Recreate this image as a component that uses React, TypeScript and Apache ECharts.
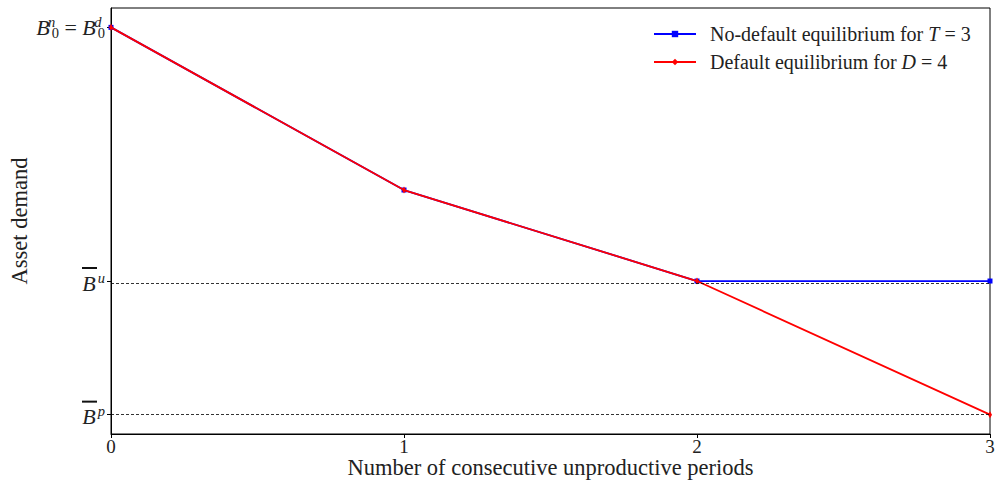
import React, { useEffect, useRef } from "react";
import * as echarts from "echarts";

// Number of consecutive unproductive periods
const periods = [0, 1, 2, 3];
// Asset demand along each equilibrium path
const noDefaultDemand = [1.0, 0.58, 0.345, 0.345];
const defaultDemand = [1.0, 0.58, 0.345, 0.0];
// Reference levels marked on the demand axis
const levelB0 = 1.0;
const levelBu = 0.345;
const levelBp = 0.0;
const yTickValues = [levelBp, levelBu, levelB0];
const xTickLabels = ["0", "1", "2", "3"];

const serif = "'Liberation Serif', 'Times New Roman', serif";

export default function App() {
  const ref = useRef<HTMLDivElement>(null);

  useEffect(() => {
    if (!ref.current) return;
    const chart = echarts.init(ref.current, undefined, { renderer: "svg" });

    const yLabel = (v: number) => {
      if (v === levelB0) return "{B|B}{supz|n}{sub|0}{eq| = }{B|B}{supz|d}{sub|0}";
      if (v === levelBu) return "{bar| }{gap| }\n{B|B}{sup|u}";
      if (v === levelBp) return "{bar| }{gap| }\n{B|B}{sup|p}";
      return "";
    };

    chart.setOption({
      animation: false,
      backgroundColor: "#ffffff",
      grid: {
        left: 111,
        right: 5,
        top: 8,
        bottom: 48,
        outerBoundsMode: "none",
        show: true,
        borderColor: "#000",
        borderWidth: 1,
        backgroundColor: "transparent",
      },
      legend: {
        orient: "vertical",
        left: 653,
        top: 24,
        padding: 0,
        itemWidth: 42,
        itemHeight: 8,
        itemGap: 8,
        data: ["noDefault", "default"],
        formatter: (name: string) =>
          name === "noDefault"
            ? "{t|No-default equilibrium for }{i|T}{t| = 3}"
            : "{t|Default equilibrium for }{i|D}{t| = 4}",
        textStyle: {
          padding: [0, 0, 0, 9],
          rich: {
            t: { fontFamily: serif, fontSize: 20, color: "#222", lineHeight: 21 },
            i: { fontFamily: serif, fontSize: 20, fontStyle: "italic", color: "#222", lineHeight: 21 },
          },
        },
      },
      xAxis: {
        type: "value",
        min: 0,
        max: 3,
        interval: 1,
        name: "Number of consecutive unproductive periods",
        nameLocation: "middle",
        nameGap: 23,
        nameMoveOverlap: false,
        nameTextStyle: { fontFamily: serif, fontSize: 22.5, lineHeight: 21, color: "#222" },
        axisLine: { show: true, onZero: false, lineStyle: { color: "#000", width: 1 } },
        axisTick: { show: true, inside: false, length: 4, lineStyle: { color: "#000" } },
        axisLabel: {
          margin: 4,
          fontFamily: serif,
          fontSize: 19,
          lineHeight: 17,
          color: "#222",
          formatter: (v: number) => xTickLabels[periods.indexOf(v)] ?? "",
        },
        splitLine: { show: false },
      },
      yAxis: {
        type: "value",
        min: -0.05,
        max: 1.05,
        name: "Asset demand",
        nameLocation: "middle",
        nameRotate: 90,
        nameGap: 80,
        nameMoveOverlap: false,
        nameTextStyle: { fontFamily: serif, fontSize: 22.5, color: "#222" },
        axisLine: { show: true, onZero: false, lineStyle: { color: "#000", width: 1 } },
        axisTick: {
          show: true,
          inside: false,
          length: 4,
          customValues: yTickValues,
          lineStyle: { color: "#000" },
        },
        axisLabel: {
          margin: 6,
          customValues: yTickValues,
          formatter: yLabel,
          color: "#222",
          rich: {
            B: { fontFamily: serif, fontStyle: "italic", fontSize: 22, color: "#222", lineHeight: 26, verticalAlign: "middle" },
            sup: { fontFamily: serif, fontStyle: "italic", fontSize: 14.5, color: "#222", lineHeight: 13, verticalAlign: "top", padding: [0, 0, 0, 2] },
            supz: { fontFamily: serif, fontStyle: "italic", fontSize: 14.5, color: "#222", lineHeight: 13, verticalAlign: "top", width: 0, align: "left", padding: [0, 0, 0, 2] },
            sub: { fontFamily: serif, fontSize: 14.5, color: "#222", lineHeight: 12, verticalAlign: "bottom" },
            eq: { fontFamily: serif, fontSize: 22, color: "#222", lineHeight: 26 },
            bar: { width: 15, height: 2, backgroundColor: "#111", lineHeight: 4, fontSize: 2 },
            gap: { width: 8, height: 2, lineHeight: 4, fontSize: 2 },
          },
        },
        splitLine: { show: false },
      },
      series: [
        {
          name: "noDefault",
          type: "line",
          data: periods.map((p, i) => [p, noDefaultDemand[i]]),
          color: "#0000ff",
          symbol: "rect",
          symbolSize: 5,
          showAllSymbol: true,
          lineStyle: { width: 1.8, color: "#0000ff" },
          itemStyle: { color: "#0000ff" },
          z: 2,
        },
        {
          name: "default",
          type: "line",
          data: periods.map((p, i) => [p, defaultDemand[i]]),
          color: "#ff0000",
          symbol: "diamond",
          symbolSize: [4, 7],
          showAllSymbol: true,
          lineStyle: { width: 1.8, color: "#ff0000" },
          itemStyle: { color: "#ff0000" },
          z: 3,
        },
        {
          name: "levels",
          type: "line",
          data: [],
          z: 4,
          markLine: {
            silent: true,
            symbol: ["none", "none"],
            label: { show: false },
            lineStyle: { color: "#000", type: [3, 2], width: 0.8 },
            data: [{ yAxis: levelBu }, { yAxis: levelBp }],
          },
        },
      ],
    });

    return () => chart.dispose();
  }, []);

  return (
    <div
      ref={ref}
      style={{ position: "fixed", left: 0, top: 0, width: 995, height: 482 }}
    />
  );
}
